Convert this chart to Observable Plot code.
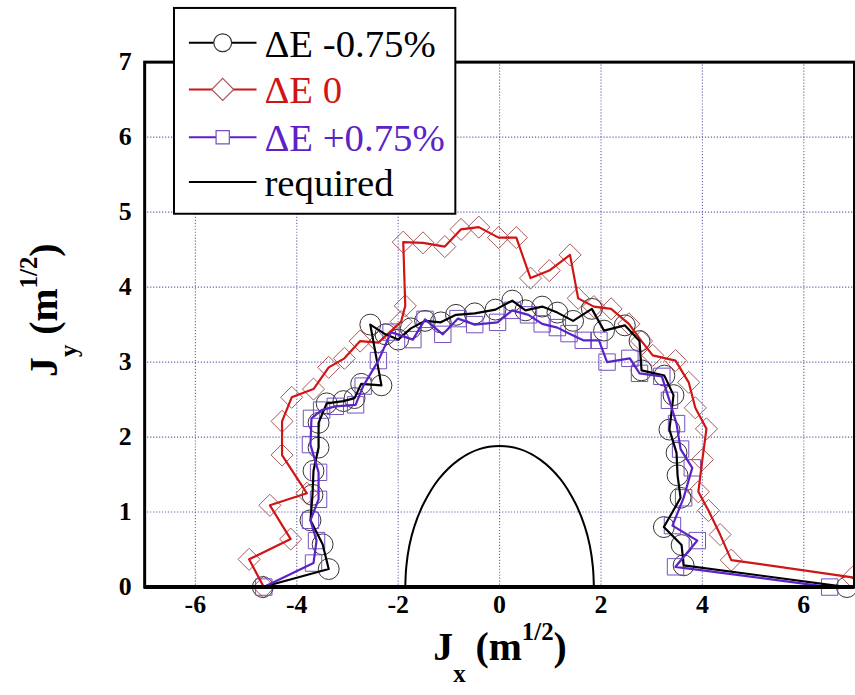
<!DOCTYPE html>
<html><head><meta charset="utf-8">
<script src="https://cdn.jsdelivr.net/npm/d3@7"></script>
<script src="https://cdn.jsdelivr.net/npm/@observablehq/plot@0.6"></script>
<style>
html,body{margin:0;padding:0;background:#fff;overflow:hidden;}
#chart{position:relative;width:855px;height:695px;overflow:hidden;}
</style></head><body><div id="chart"></div>
<script>
// ---- data ----
const xTicks = [-6, -4, -2, 0, 2, 4, 6];
const yTicks = [0, 1, 2, 3, 4, 5, 6, 7];
const seriesNames = ["ΔE -0.75%", "ΔE 0", "ΔE +0.75%", "required"];

const minusX = [-4.67,-3.37,-3.49,-3.73,-3.69,-3.67,-3.57,-3.57,-3.41,-3.08,-2.86,-2.73,-2.33,-2.55,-2.25,-2.00,-1.75,-1.47,-1.16,-0.86,-0.49,-0.08,0.25,0.51,0.84,1.14,1.45,1.82,2.06,2.47,2.76,2.80,3.25,3.43,3.35,3.49,3.51,3.57,3.24,3.59,3.63,6.85];
const minusY = [0.00,0.24,0.57,0.89,1.23,1.55,1.86,2.19,2.45,2.48,2.52,2.71,2.69,3.50,3.37,3.30,3.45,3.55,3.53,3.63,3.65,3.70,3.82,3.69,3.74,3.66,3.55,3.71,3.42,3.49,3.28,2.89,2.82,2.56,2.10,1.79,1.49,1.19,0.80,0.56,0.29,0.00];

const zeroX = [-4.65,-4.94,-4.12,-4.53,-3.80,-4.29,-4.29,-4.10,-3.67,-3.37,-3.06,-2.75,-2.39,-1.94,-1.86,-1.90,-1.51,-1.08,-0.76,-0.41,-0.02,0.33,0.61,0.98,1.39,1.55,1.86,2.20,2.55,2.80,3.02,3.47,3.73,3.86,4.08,4.00,3.92,4.12,4.35,4.57,6.96];
const zeroY = [0.00,0.37,0.64,1.09,1.25,1.76,2.21,2.53,2.64,2.93,3.05,3.28,3.26,3.54,3.75,4.60,4.59,4.54,4.77,4.80,4.66,4.66,4.12,4.22,4.43,3.85,3.74,3.71,3.51,3.28,3.09,3.02,2.73,2.39,2.11,1.70,1.27,1.02,0.70,0.36,0.13];

const plusX = [-4.65,-3.67,-3.61,-3.73,-3.57,-3.57,-3.73,-3.71,-3.51,-3.24,-2.84,-2.69,-2.39,-2.14,-1.71,-1.47,-1.12,-0.82,-0.49,-0.04,0.25,0.57,0.84,1.14,1.37,1.65,1.96,2.12,2.57,2.76,3.20,3.35,3.49,3.57,3.80,3.63,3.41,3.90,3.47,6.51];
const plusY = [0.00,0.32,0.62,0.89,1.17,1.53,1.90,2.25,2.36,2.41,2.43,2.68,3.02,3.40,3.30,3.57,3.37,3.58,3.50,3.53,3.69,3.63,3.51,3.46,3.38,3.29,3.29,3.00,3.05,2.85,2.81,2.49,2.18,1.84,1.59,1.19,0.82,0.62,0.27,0.00];

const reqX = [-1.86,-1.84,-1.78,-1.68,-1.50,-1.20,-0.80,-0.40,0.00,0.40,0.80,1.20,1.50,1.68,1.78,1.84,1.86];
const reqY = [0.00,0.27,0.55,0.81,1.11,1.44,1.70,1.84,1.88,1.84,1.70,1.44,1.11,0.81,0.55,0.27,0.00];

const toRows = (xs, ys) => xs.map((x, i) => ({x, y: ys[i]}));
const minus = toRows(minusX, minusY);
const zero = toRows(zeroX, zeroY);
const plus = toRows(plusX, plusY);
const req = toRows(reqX, reqY);

const RED = "#d01515", PURPLE = "#5a22c8";
const serif = "'Liberation Serif','Times New Roman',serif";
const fmt = d => String(d);

const plot = Plot.plot({
  width: 860, height: 695,
  marginLeft: 145, marginRight: 1, marginTop: 62, marginBottom: 105,
  style: {fontFamily: serif, background: "#fff", color: "#000"},
  x: {domain: [-7, 7]},
  y: {domain: [0, 7]},
  marks: [
    Plot.gridX(xTicks, {stroke: "#6464a8", strokeOpacity: 1, strokeDasharray: "1.2,1.8", strokeWidth: 1.1}),
    Plot.gridY(yTicks.filter(d => d > 0 && d < 7), {stroke: "#6464a8", strokeOpacity: 1, strokeDasharray: "1.2,1.8", strokeWidth: 1.1}),
    Plot.axisX(xTicks, {tickSize: 0, tickPadding: 8, tickFormat: fmt, label: null}),
    Plot.axisY(yTicks, {tickSize: 0, tickPadding: 13, tickFormat: fmt, label: null}),
    Plot.line(req, {x: "x", y: "y", stroke: "#000", strokeWidth: 2, curve: "catmull-rom"}),
    Plot.dot(zero, {x: "x", y: "y", symbol: "diamond2", r: 10, stroke: "#a85858", strokeWidth: 1, fill: "none"}),
    Plot.dot(minus, {x: "x", y: "y", symbol: "circle", r: 10.5, stroke: "#333", strokeWidth: 1, fill: "none"}),
    Plot.dot(plus, {x: "x", y: "y", symbol: "square2", r: 10.5, stroke: "#7550c0", strokeWidth: 1, fill: "none"}),
    Plot.line(zero, {x: "x", y: "y", stroke: RED, strokeWidth: 2.2}),
    Plot.line(minus, {x: "x", y: "y", stroke: "#000", strokeWidth: 2.2}),
    Plot.line(plus, {x: "x", y: "y", stroke: PURPLE, strokeWidth: 2.2}),
    Plot.frame({stroke: "#000", strokeWidth: 3}),
    Plot.ruleY([0], {stroke: "#000", strokeWidth: 4})
  ]
});
document.getElementById("chart").appendChild(plot);

const svg = d3.select(plot);
// tick labels: bold serif, like the reference
svg.selectAll("text").filter(function () {
  const g = this.closest("g[aria-label]");
  return g && /tick label/.test(g.getAttribute("aria-label"));
}).style("font-size", "26px").style("font-weight", "bold").style("font-family", serif);

// ---- axis titles and legend ----
const xt = svg.append("text").attr("x", 503).attr("y", 664).attr("text-anchor", "middle")
  .style("font-family", serif).style("font-weight", "bold").style("font-size", "40px").attr("fill", "#000");
xt.append("tspan").text("J");
xt.append("tspan").style("font-size", "25px").attr("dy", 22).text("x");
xt.append("tspan").attr("dy", -22).text(" (m");
xt.append("tspan").style("font-size", "25px").attr("dy", -20).text("1/2");
xt.append("tspan").attr("dy", 20).text(")");

const yt = svg.append("text").attr("transform", "translate(57,312) rotate(-90)").attr("text-anchor", "middle")
  .style("font-family", serif).style("font-weight", "bold").style("font-size", "40px").attr("fill", "#000");
yt.append("tspan").text("J");
yt.append("tspan").style("font-size", "25px").attr("dy", 20).text("y");
yt.append("tspan").attr("dy", -20).text(" (m");
yt.append("tspan").style("font-size", "25px").attr("dy", -20).text("1/2");
yt.append("tspan").attr("dy", 20).text(")");

const lg = svg.append("g");
lg.append("rect").attr("x", 175).attr("y", 8).attr("width", 283).attr("height", 207)
  .attr("fill", "#fff").attr("stroke", "#000").attr("stroke-width", 2);
const entries = [
  {name: seriesNames[0], color: "#000", text: "#000", sym: d3.symbolCircle, ms: "#333", size: Math.PI * 81},
  {name: seriesNames[1], color: RED, text: RED, sym: d3.symbolDiamond2, ms: "#a85858", size: Math.PI * 100},
  {name: seriesNames[2], color: PURPLE, text: PURPLE, sym: d3.symbolSquare2, ms: "#7550c0", size: Math.PI * 72},
  {name: seriesNames[3], color: "#000", text: "#000", sym: null}
];
const rowY = [43, 90, 138, 183];
entries.forEach((e, i) => {
  const y = rowY[i];
  lg.append("line").attr("x1", 190).attr("x2", 258).attr("y1", y).attr("y2", y)
    .attr("stroke", e.color).attr("stroke-width", 2);
  if (e.sym) lg.append("path").attr("d", d3.symbol(e.sym, e.size)()).attr("transform", `translate(224,${y})`)
    .attr("fill", "#fff").attr("stroke", e.ms).attr("stroke-width", 1.2);
  lg.append("text").attr("x", 266).attr("y", y + 14).attr("text-anchor", "start")
    .style("font-family", serif).style("font-weight", "normal").style("font-size", "39px")
    .attr("fill", e.text).text(e.name);
});
</script></body></html>
